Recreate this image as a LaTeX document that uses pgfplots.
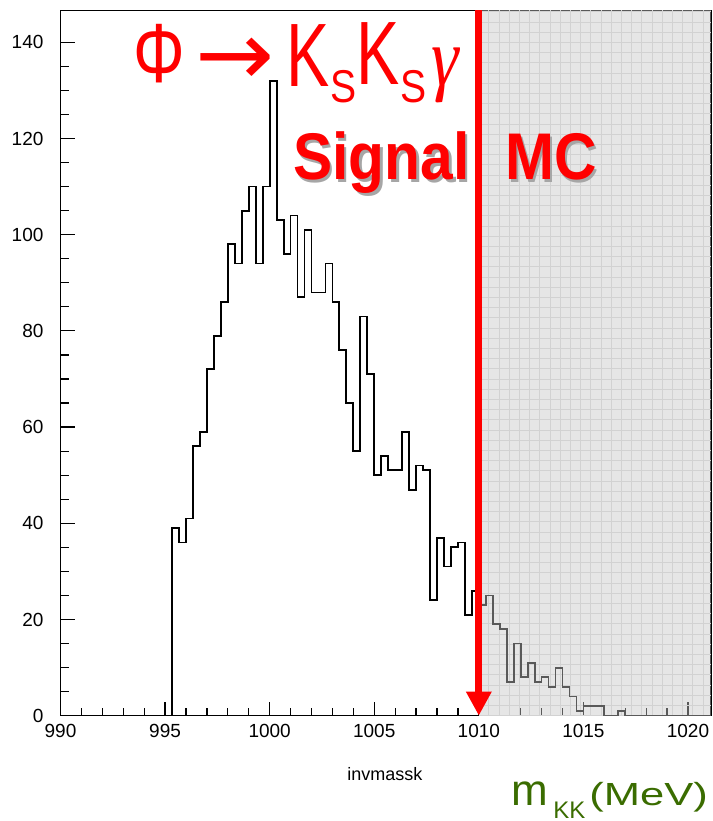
\documentclass[border=0pt]{standalone}
\usepackage{fontspec}
\setmainfont{Liberation Sans}
\newfontfamily\dvsans{DejaVu Sans}
\newfontfamily\lserif{Liberation Serif}
\usepackage{pgfplots}
\pgfplotsset{compat=1.18}
\usetikzlibrary{arrows.meta}

\definecolor{gridc}{RGB}{220,220,220}
\definecolor{mgreen}{RGB}{58,108,0}

% histogram of invmassk, bins of 1/3 MeV, left edges
\pgfplotstableread{
x        n
990      0
995.333  39
995.667  36
996      41
996.333  56
996.667  59
997      72
997.333  79
997.667  86
998      98
998.333  94
998.667  105
999      110
999.333  94
999.667  110
1000     132
1000.333 103
1000.667 96
1001     104
1001.333 87
1001.667 101
1002     88
1002.333 88
1002.667 94
1003     86
1003.333 76
1003.667 65
1004     55
1004.333 83
1004.667 71
1005     50
1005.333 54
1005.667 51
1006     51
1006.333 59
1006.667 47
1007     52
1007.333 51
1007.667 24
1008     37
1008.333 31
1008.667 35
1009     36
1009.333 21
1009.667 26
1010     23
1010.333 25
1010.667 19
1011     18
1011.333 7
1011.667 15
1012     8
1012.333 11
1012.667 7
1013     8
1013.333 6
1013.667 10
1014     6
1014.333 4
1014.667 1
1015     2
1015.333 2
1015.667 2
1016     0
1016.333 0
1016.667 1
1017     0
1021.1   0
}\hist

\begin{document}
\begin{tikzpicture}
\begin{axis}[
  at={(0,0)}, anchor=south west,
  scale only axis, width=325.25pt, height=352.7pt,
  xmin=990, xmax=1021.1, ymin=0, ymax=146.65,
  xtick={990,995,...,1020}, ytick={0,20,...,140},
  minor x tick num=4, minor y tick num=3,
  tick align=inside, tick pos=left,
  major tick length=7pt, minor tick length=4pt,
  every tick/.style={black, line width=0.6pt},
  axis line style={black, line width=0.7pt},
  ticklabel style={font=\fontsize{9.5}{9.5}\selectfont},
  /pgf/number format/assume math mode=true,
  /pgf/number format/1000 sep={},
  yticklabel style={xshift=-5pt},
  xticklabel style={yshift=-0.5pt},
]
  \draw[gridc, line width=0.5pt, step=5.1pt] (axis cs:1010,0) grid (axis cs:1021.1,146.65);
  \addplot[const plot mark left, black, line width=0.9pt] table[x=x, y=n] {\hist};
  \fill[black!22, opacity=0.45] (axis cs:1010,0) rectangle (axis cs:1021.1,146.65);
  \draw[red, line width=3.65pt, -{Triangle[width=12pt,length=12pt]}]
    (axis cs:1010,146.65) -- (axis cs:1010,0);
\end{axis}

% title
\begin{scope}[every node/.style={inner sep=0pt, anchor=base west, text=red}]
  \node at (36.25pt,316.35pt) {\scalebox{0.77}[1]{\fontsize{42}{42}\selectfont Φ}};
  \node at (67.25pt,314.85pt) {\scalebox{1.05}[1]{\fontsize{45}{45}\selectfont\dvsans →}};
  \node at (112.75pt,314.5pt) {\scalebox{0.72}[1]{\fontsize{45}{45}\selectfont K}};
  \node at (134.6pt,306.35pt) {\scalebox{0.85}[1]{\fontsize{23}{23}\selectfont S}};
  \node at (147.9pt,315.35pt) {\scalebox{0.72}[1]{\fontsize{45}{45}\selectfont K}};
  \node at (169.7pt,306.35pt) {\scalebox{0.85}[1]{\fontsize{23}{23}\selectfont S}};
  \node at (185.25pt,314.85pt) {\scalebox{0.85}[1]{\fontsize{41}{41}\selectfont\lserif\itshape γ}};
\end{scope}

% Signal MC with shadow
\begin{scope}[every node/.style={inner sep=0pt, anchor=base west}]
  \node[text=black!35] at (117.45pt,266.65pt) {\scalebox{0.89}[1]{\fontsize{33}{33}\selectfont\bfseries Signal}};
  \node[text=black!35] at (223.45pt,266.65pt) {\scalebox{0.89}[1]{\fontsize{33}{33}\selectfont\bfseries MC}};
  \node[text=red] at (116.25pt,267.85pt) {\scalebox{0.89}[1]{\fontsize{33}{33}\selectfont\bfseries Signal}};
  \node[text=red] at (222.25pt,267.85pt) {\scalebox{0.89}[1]{\fontsize{33}{33}\selectfont\bfseries MC}};
\end{scope}

% axis label and physics label
\node[inner sep=0pt, anchor=base] at (162.25pt,-32.15pt) {\fontsize{9}{9}\selectfont invmassk};
\begin{scope}[every node/.style={inner sep=0pt, anchor=base west, text=mgreen}]
  \node at (225.5pt,-44.65pt) {\fontsize{22}{22}\selectfont m};
  \node at (246.25pt,-51.15pt) {\fontsize{12}{12}\selectfont KK};
  \node at (264.25pt,-44.65pt) {\scalebox{1.36}[1]{\fontsize{16}{16}\selectfont (MeV)}};
\end{scope}

\pgfresetboundingbox
\path[use as bounding box] (-30.25pt,-52.65pt) rectangle (326.25pt,357.85pt);
\end{tikzpicture}
\end{document}
